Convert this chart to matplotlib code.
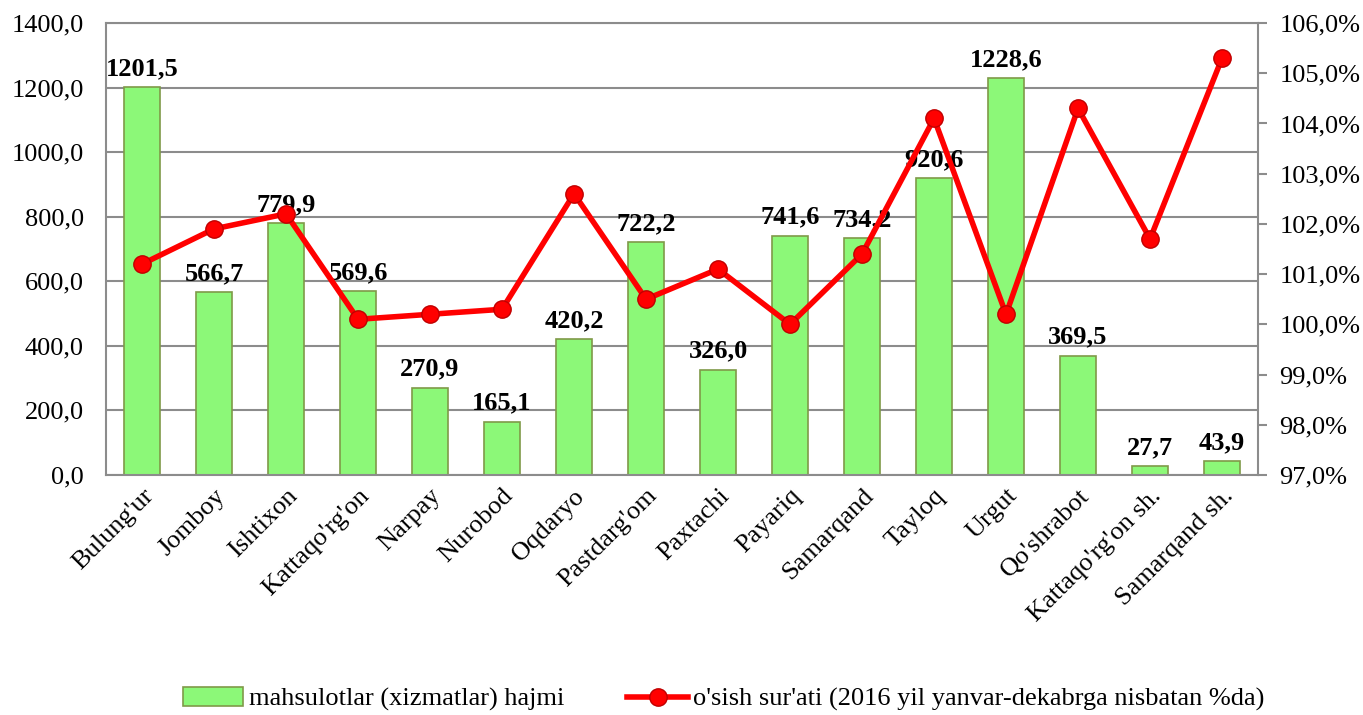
import matplotlib
matplotlib.use("Agg")
import matplotlib.pyplot as plt
from matplotlib.ticker import FuncFormatter, MultipleLocator

plt.rcParams['font.family'] = ['Liberation Serif', 'DejaVu Serif']

categories = ["Bulung'ur", "Jomboy", "Ishtixon", "Kattaqo'rg'on", "Narpay", "Nurobod",
              "Oqdaryo", "Pastdarg'om", "Paxtachi", "Payariq", "Samarqand", "Tayloq",
              "Urgut", "Qo'shrabot", "Kattaqo'rg'on sh.", "Samarqand sh."]
volume = [1201.5, 566.7, 779.9, 569.6, 270.9, 165.1, 420.2, 722.2, 326.0, 741.6,
          734.2, 920.6, 1228.6, 369.5, 27.7, 43.9]
growth = [101.2, 101.9, 102.2, 100.1, 100.2, 100.3, 102.6, 100.5, 101.1, 100.0,
          101.4, 104.1, 100.2, 104.3, 101.7, 105.3]
bar_label = "mahsulotlar (xizmatlar) hajmi"
line_label = "o'sish sur'ati (2016 yil yanvar-dekabrga nisbatan %da)"

fig = plt.figure(figsize=(13.63, 7.15), dpi=100)
ax = fig.add_axes([0.0778, 0.3357, 0.8452, 0.6321])
x = list(range(len(categories)))

bars = ax.bar(x, volume, width=0.5, color='#8CF878', edgecolor='#7F9A48',
              linewidth=1.2, zorder=2, label=bar_label)
ax.set_ylim(0, 1400)
ax.set_xlim(-0.5, len(categories) - 0.5)
ax.yaxis.set_major_locator(MultipleLocator(200))
ax.yaxis.set_major_formatter(FuncFormatter(lambda v, p: f"{v:.1f}".replace('.', ',')))
ax.grid(axis='y', color='#8C8C8C', linewidth=1.5, zorder=0)
ax.set_axisbelow(True)
for s in ax.spines.values():
    s.set_color('#8C8C8C')
    s.set_linewidth(1.5)
ax.set_xticks(x)
ax.set_xticklabels(categories, rotation=45, ha='right', rotation_mode='anchor', fontsize=19)
ax.tick_params(axis='x', length=0, pad=7)
ax.tick_params(axis='y', labelsize=19, length=0, pad=16)

for xi, v in zip(x, volume):
    ax.annotate(f"{v:.1f}".replace('.', ','), (xi, v), xytext=(0, 5),
                textcoords='offset points', ha='center', va='bottom',
                fontsize=19, fontweight='bold', zorder=5)

ax2 = ax.twinx()
ax2.set_ylim(97, 106)
ax2.yaxis.set_major_locator(MultipleLocator(1))
ax2.yaxis.set_major_formatter(FuncFormatter(lambda v, p: f"{v:.1f}%".replace('.', ',')))
ax2.tick_params(axis='y', labelsize=19, length=6.5, width=1.5, color='#8C8C8C', pad=9)
for s in ax2.spines.values():
    s.set_visible(False)
line, = ax2.plot(x, growth, color='#FF0000', linewidth=4, marker='o', markersize=12.5,
                 markerfacecolor='#FF0000', markeredgecolor='#C00000', markeredgewidth=1,
                 zorder=4, label=line_label)

fig.legend([bars, line], [bar_label, line_label], loc='center', bbox_to_anchor=(0.531, 0.022),
           ncol=2, frameon=False, prop={'family': ['Liberation Serif'], 'size': 19},
           columnspacing=2.4, handlelength=2.3, handletextpad=0.2)

fig.savefig("out.png", dpi=100)
